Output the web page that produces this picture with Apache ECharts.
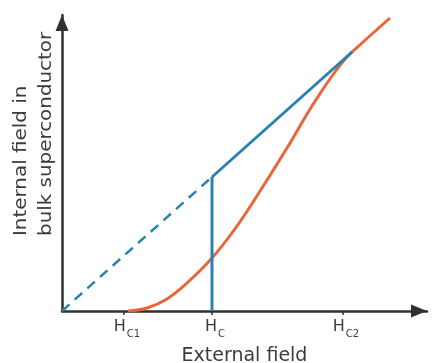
<!DOCTYPE html>
<html>
<head>
<meta charset="utf-8">
<script src="https://cdn.jsdelivr.net/npm/echarts@6/dist/echarts.min.js"></script>
<style>
  html, body { margin: 0; padding: 0; background: #fff; }
  #chart { width: 437px; height: 363px; }
</style>
</head>
<body>
<div id="chart"></div>
<script>
// critical fields on the external field axis
var tickValues = [62, 150, 281];
var tickSubs = ['C1', 'C', 'C2'];

// ideal (type I) response: dashed up to Hc, jump, then solid
var dashedLine = [[0, 0], [150, 134]];
var jumpLine = [[150, 0], [150, 134]];
var solidLine = [[150, 134], [290, 259]];

// type II response, starts at Hc1 and merges near Hc2
var curveX = [66, 85, 105, 125, 150, 175, 200, 225, 250, 270, 285, 300, 328];
var curveY = [0, 3, 12, 28, 53, 85, 123, 163, 205, 235, 254, 268, 293];

var blue = '#2a82b3';
var orange = '#e8673a';
var axisCol = '#2e322f';
var textCol = '#3c3c3c';

var myChart = echarts.init(document.getElementById('chart'));
var option = {
  animation: false,
  grid: { left: 62, right: 10, top: 15, bottom: 52, containLabel: false, outerBoundsMode: 'none' },
  xAxis: {
    type: 'value',
    min: 0,
    max: 365,
    splitLine: { show: false },
    axisLine: {
      lineStyle: { color: axisCol, width: 2.5 },
      symbol: ['none', 'triangle'],
      symbolSize: [13, 16],
      symbolOffset: [0, -8]
    },
    axisTick: { show: true, customValues: tickValues, length: 4, lineStyle: { color: axisCol, width: 1.5 } },
    axisLabel: {
      customValues: tickValues,
      margin: 8,
      color: textCol,
      formatter: function (v) {
        var i = tickValues.indexOf(v);
        return '{h|H}{s|' + tickSubs[i] + '}';
      },
      rich: {
        h: { fontFamily: 'DejaVu Sans', fontSize: 16, color: textCol, verticalAlign: 'top', padding: [0, 0, 4, 6] },
        s: { fontFamily: 'DejaVu Sans', fontSize: 10, color: textCol, verticalAlign: 'bottom', padding: [6, 0, 0, 1] }
      }
    },
    name: 'External field',
    nameLocation: 'middle',
    nameGap: 36,
    nameTextStyle: { fontFamily: 'DejaVu Sans', fontSize: 19, color: textCol }
  },
  yAxis: {
    type: 'value',
    min: 0,
    max: 296,
    splitLine: { show: false },
    axisTick: { show: false },
    axisLabel: { show: false },
    axisLine: {
      lineStyle: { color: axisCol, width: 2.5 },
      symbol: ['none', 'triangle'],
      symbolSize: [13, 16],
      symbolOffset: [0, -8]
    }
  },
  graphic: [{
    type: 'text',
    x: 9,
    y: 236,
    rotation: Math.PI / 2,
    scaleX: 1.17,
    style: {
      text: 'Internal field in\nbulk superconductor',
      fontFamily: 'DejaVu Sans',
      fontSize: 17,
      lineHeight: 25,
      fill: textCol,
      align: 'left',
      verticalAlign: 'top'
    }
  }],
  series: [
    {
      type: 'line',
      data: curveX.map(function (x, i) { return [x, curveY[i]]; }),
      smooth: 0.4,
      showSymbol: false,
      lineStyle: { color: orange, width: 3 },
      z: 2
    },
    {
      type: 'line',
      data: dashedLine,
      showSymbol: false,
      lineStyle: { color: blue, width: 2.5, type: [10, 7] },
      z: 3
    },
    {
      type: 'line',
      data: jumpLine,
      showSymbol: false,
      lineStyle: { color: blue, width: 3 },
      z: 3
    },
    {
      type: 'line',
      data: solidLine,
      showSymbol: false,
      lineStyle: { color: blue, width: 3 },
      z: 3
    }
  ]
};
myChart.setOption(option);
</script>
</body>
</html>
